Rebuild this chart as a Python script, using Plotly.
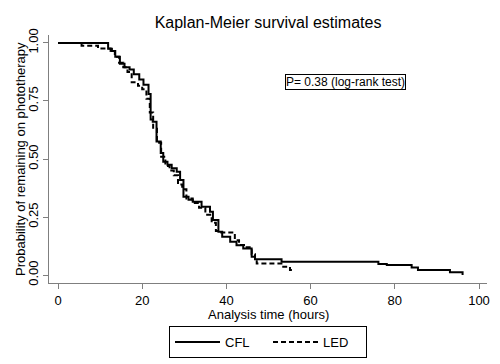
import plotly.graph_objects as go

# CFL group (solid) - Kaplan-Meier step estimates
cfl_time = [0, 11.9, 12.8, 13.6, 14.7, 15.8, 17.0, 18.0, 19.3, 20.3, 21.5, 22.0, 22.5,
            23.4, 24.4, 25.0, 26.0, 27.0, 28.2, 29.0, 29.8, 31.0, 32.0, 34.1, 36.1,
            36.8, 38.1, 39.0, 40.9, 42.4, 44.0, 46.0, 46.8, 53.1, 76.1, 78.1, 84.0,
            85.5, 93.1, 96.1]
cfl_surv = [1.0, 0.975, 0.965, 0.94, 0.91, 0.895, 0.885, 0.865, 0.842, 0.82, 0.78, 0.67, 0.66,
            0.575, 0.526, 0.488, 0.475, 0.46, 0.445, 0.41, 0.337, 0.325, 0.316, 0.294, 0.273,
            0.237, 0.187, 0.165, 0.144, 0.129, 0.115, 0.079, 0.068, 0.057, 0.048, 0.043, 0.033,
            0.022, 0.012, 0.0]

# LED group (dashed)
led_time = [0, 5.6, 9.5, 12.5, 13.5, 14.5, 15.5, 16.5, 17.5, 19.0, 20.0, 21.0, 21.8,
            22.6, 23.5, 24.5, 25.5, 26.5, 27.5, 28.5, 29.5, 30.5, 32.0, 33.5, 35.0,
            36.5, 37.5, 38.5, 42.0, 43.0, 44.5, 46.0, 46.8, 47.2, 53.5, 55.1, 56.0]
led_surv = [1.0, 0.988, 0.976, 0.965, 0.94, 0.915, 0.895, 0.875, 0.83, 0.815, 0.80, 0.76, 0.70,
            0.63, 0.57, 0.51, 0.47, 0.45, 0.43, 0.39, 0.37, 0.33, 0.31, 0.29, 0.26,
            0.225, 0.19, 0.183, 0.15, 0.13, 0.12, 0.09, 0.06, 0.05, 0.036, 0.022, 0.022]

x_ticks = [0, 20, 40, 60, 80, 100]
y_ticks = [0, 0.25, 0.5, 0.75, 1.0]
y_ticklabels = ["0.00", "0.25", "0.50", "0.75", "1.00"]

FONT = "Liberation Sans, Arial, sans-serif"
AXIS_COL = "#7f7f7f"

fig = go.Figure()
fig.add_trace(go.Scatter(x=cfl_time, y=cfl_surv, mode="lines", name="CFL",
                         line=dict(color="black", width=2, shape="hv")))
fig.add_trace(go.Scatter(x=led_time, y=led_surv, mode="lines", name="LED",
                         line=dict(color="black", width=2, shape="hv", dash="5px,3px")))

fig.add_annotation(x=68.4, y=0.83, xref="x", yref="y",
                   text="P= 0.38 (log-rank test)", showarrow=False,
                   font=dict(family=FONT, size=12, color="black"),
                   bordercolor="black", borderwidth=1, borderpad=0, bgcolor="white")

# axis titles placed as paper annotations for exact positioning
fig.add_annotation(x=0.5, y=-31.5 / 248, xref="paper", yref="paper",
                   text="Analysis time (hours)", showarrow=False,
                   xanchor="center", yanchor="middle",
                   font=dict(family=FONT, size=13, color="black"))
fig.add_annotation(x=-29 / 438, y=0.5, xref="paper", yref="paper",
                   text="Probability of remaining on phototherapy", showarrow=False,
                   textangle=-90, xanchor="center", yanchor="middle",
                   font=dict(family=FONT, size=13, color="black"))

fig.update_layout(
    width=500, height=364,
    margin=dict(l=49, r=13, t=35, b=81, autoexpand=False),
    paper_bgcolor="white", plot_bgcolor="white",
    font=dict(family=FONT, size=13, color="black"),
    title=dict(text="Kaplan-Meier survival estimates", x=0.536, xanchor="center",
               y=1 - 22 / 364, yanchor="middle", yref="container",
               font=dict(family=FONT, size=16, color="black")),
    showlegend=True,
    legend=dict(orientation="h", x=0.5, xanchor="center", y=-43 / 248, yanchor="top",
                bordercolor="black", borderwidth=1, bgcolor="white",
                font=dict(family=FONT, size=13, color="black"),
                itemwidth=45, entrywidth=38, tracegroupgap=0),
    xaxis=dict(range=[-2.14, 101.9], tickmode="array", tickvals=x_ticks,
               showgrid=False, zeroline=False, showline=True, linecolor=AXIS_COL,
               linewidth=1, ticks="outside", ticklen=5, tickcolor=AXIS_COL,
               automargin=False,
               tickfont=dict(family=FONT, size=13, color="black")),
    yaxis=dict(range=[-0.034, 1.034], tickmode="array", tickvals=y_ticks,
               ticktext=y_ticklabels, tickangle=-90,
               showgrid=False, zeroline=False, showline=True, linecolor=AXIS_COL,
               linewidth=1, ticks="outside", ticklen=5, tickcolor=AXIS_COL,
               automargin=False,
               tickfont=dict(family=FONT, size=13, color="black")),
)

fig.write_html("out.html", config={"displayModeBar": False},
               post_script="document.body.style.margin='0';document.body.style.overflow='hidden';")
